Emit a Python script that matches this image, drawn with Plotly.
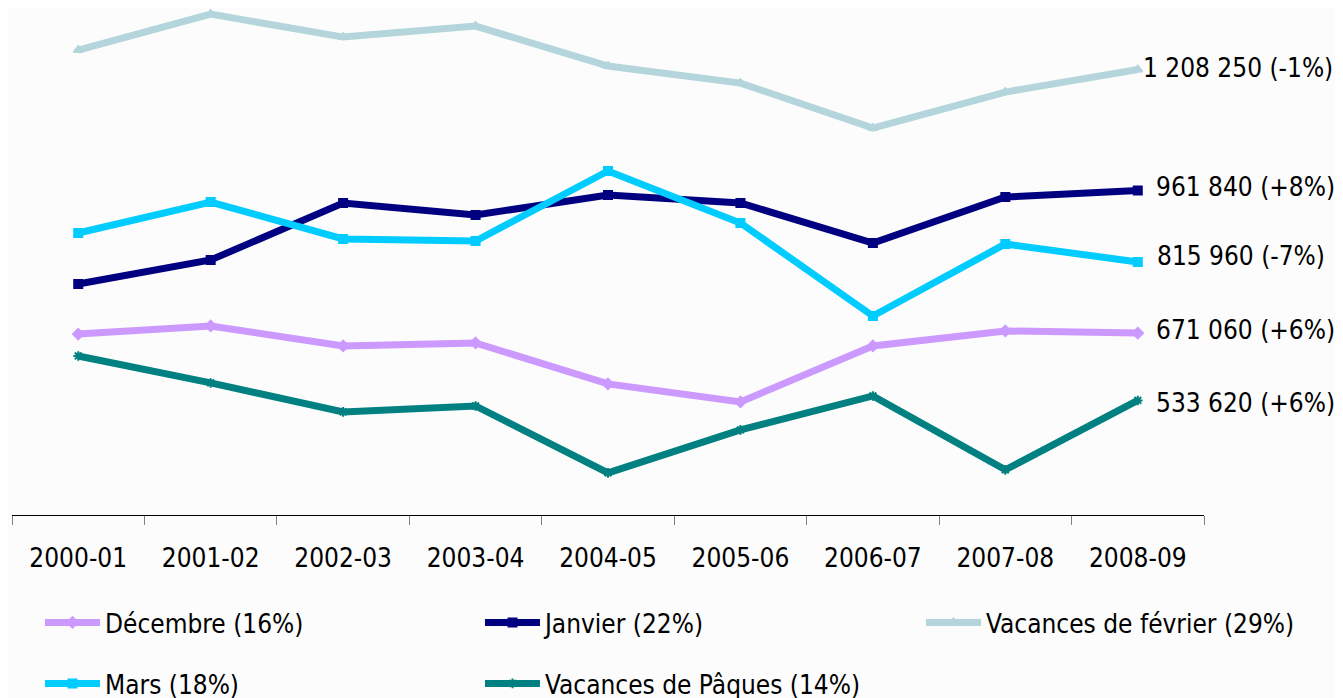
import plotly.graph_objects as go

categories = ["2000-01", "2001-02", "2002-03", "2003-04", "2004-05",
              "2005-06", "2006-07", "2007-08", "2008-09"]

decembre = [669000, 685500, 644700, 650800, 567300, 530600, 644700, 675300, 671060]
janvier = [771000, 820000, 936200, 911700, 952500, 936200, 854600, 948400, 961840]
fevrier = [1248000, 1321400, 1274500, 1296900, 1215400, 1180700, 1089000, 1162400, 1208250]
mars = [875000, 938200, 862800, 858700, 1001400, 895400, 705800, 852600, 815960]
paques = [624300, 569300, 510200, 522400, 385900, 473500, 542800, 392000, 533620]

end_labels = ["1 208 250 (-1%)", "961 840 (+8%)", "815 960 (-7%)",
              "671 060 (+6%)", "533 620 (+6%)"]

FONT = "DejaVu Sans Condensed, DejaVu Sans, sans-serif"

series = [
    ("Décembre (16%)", decembre, "#CC99FF", "diamond", "legend"),
    ("Janvier (22%)", janvier, "#000080", "square", "legend2"),
    ("Vacances de février (29%)", fevrier, "#B3D5DB", "triangle-up", "legend3"),
    ("Mars (18%)", mars, "#00CCFF", "square", "legend4"),
    ("Vacances de Pâques (14%)", paques, "#008080", "asterisk-open", "legend5"),
]

fig = go.Figure()
for name, vals, color, sym, leg in series:
    fig.add_trace(go.Scatter(
        x=categories, y=vals, name=name, mode="lines+markers",
        line=dict(color=color, width=7),
        marker=dict(symbol=sym, size=8, color=color,
                    line=dict(color=color, width=2)),
        legend=leg, cliponaxis=False,
    ))

label_specs = [
    (fevrier, end_labels[0], 3, 2),
    (janvier, end_labels[1], 16, 3),
    (mars, end_labels[2], 17, 6),
    (decembre, end_labels[3], 16, 3),
    (paques, end_labels[4], 16, -3),
]
for vals, txt, xs, ys in label_specs:
    fig.add_annotation(x=categories[-1], y=vals[-1], text=txt, showarrow=False,
                       xanchor="left", yanchor="middle", xshift=xs, yshift=ys,
                       font=dict(family=FONT, size=26, color="#000000"))


def leg(x, y):
    return dict(orientation="h", x=x, y=y, xanchor="left", yanchor="top",
                itemwidth=55, font=dict(family=FONT, size=26),
                bgcolor="rgba(0,0,0,0)")


row1, row2 = -0.1657, -0.286
fig.update_layout(
    width=1343, height=698,
    margin=dict(l=4, r=147, t=0, b=191, autoexpand=False),
    paper_bgcolor="#FCFCFC", plot_bgcolor="#FCFCFC",
    font=dict(family=FONT, size=26, color="#000000"),
    showlegend=True,
    legend=leg(0.0235, row1),
    legend2=leg(0.3926, row1),
    legend3=leg(0.7626, row1),
    legend4=leg(0.0235, row2),
    legend5=leg(0.3926, row2),
    xaxis=dict(type="category", range=[-0.5, 8.5], showline=True, linecolor="#000000",
               linewidth=1, ticks="outside", ticklen=9, tickcolor="#808080",
               tickson="boundaries", showgrid=False, zeroline=False,
               ticklabelstandoff=20, automargin=False,
               tickfont=dict(family=FONT, size=26)),
    yaxis=dict(range=[300000, 1333800], visible=False, showgrid=False, automargin=False),
)

fig.write_html("out.html")
